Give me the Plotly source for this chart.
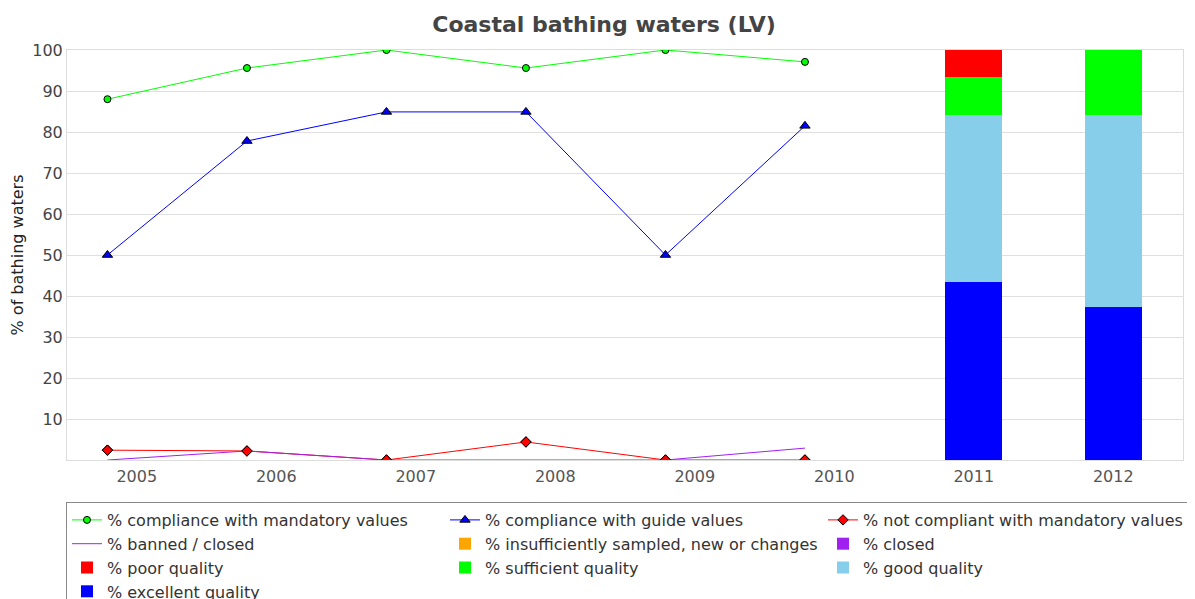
import plotly.graph_objects as go

years = ["2005", "2006", "2007", "2008", "2009", "2010", "2011", "2012"]
line_years = ["2005", "2006", "2007", "2008", "2009", "2010"]
bar_years = ["2011", "2012"]

mandatory = [88.0, 95.6, 100.0, 95.6, 100.0, 97.1]
guide = [50.0, 77.8, 84.9, 84.9, 50.0, 81.5]
not_compliant = [2.4, 2.2, 0.0, 4.4, 0.0, 0.0]
banned = [0.0, 2.2, 0.0, 0.0, 0.0, 2.9]

insufficient = [0.0, 0.0]
closed = [0.0, 0.0]
poor = [6.6, 0.0]
sufficient = [9.3, 15.9]
good = [40.7, 46.8]
excellent = [43.4, 37.3]

yticks = [10, 20, 30, 40, 50, 60, 70, 80, 90, 100]

idx = {y: i for i, y in enumerate(years)}
LINE_OFFSET = -0.21
lx = [idx[y] + LINE_OFFSET for y in line_years]
bx = [idx[y] for y in bar_years]

FONT = "DejaVu Sans"
W, H = 1195, 599
ML, MR, MT, MB = 59, 20, 42, 147
PW, PH = W - ML - MR, H - MT - MB

fig = go.Figure()

fig.add_trace(go.Scatter(x=lx, y=mandatory, mode="lines+markers", name="% compliance with mandatory values",
                         line=dict(color="#00ff00", width=1), legendrank=1,
                         marker=dict(symbol="circle", size=7, color="#00ff00", line=dict(color="black", width=1))))
fig.add_trace(go.Scatter(x=lx, y=guide, mode="lines+markers", name="% compliance with guide values",
                         line=dict(color="#0000ff", width=1), legendrank=2,
                         marker=dict(symbol="triangle-up", size=9, color="#0000ff", line=dict(color="black", width=1))))
fig.add_trace(go.Scatter(x=lx, y=not_compliant, mode="lines+markers", name="% not compliant with mandatory values",
                         line=dict(color="#ff0000", width=1), legendrank=3,
                         marker=dict(symbol="diamond", size=8, color="#ff0000", line=dict(color="black", width=1))))
fig.add_trace(go.Scatter(x=lx, y=banned, mode="lines", name="% banned / closed", legendrank=4,
                         line=dict(color="#a020f0", width=1)))
fig.add_trace(go.Scatter(x=lx, y=not_compliant, mode="markers", showlegend=False, hoverinfo="skip",
                         marker=dict(symbol="diamond", size=8, color="#ff0000", line=dict(color="black", width=1))))

bar_specs = [
    ("% insufficiently sampled, new or changes", insufficient, "#ffa500", 5),
    ("% closed", closed, "#a020f0", 6),
    ("% excellent quality", excellent, "#0000ff", 10),
    ("% good quality", good, "#87ceeb", 9),
    ("% sufficient quality", sufficient, "#00ff00", 8),
    ("% poor quality", poor, "#ff0000", 7),
]
for name, vals, col, rank in bar_specs:
    fig.add_trace(go.Bar(x=bx, y=vals, name=name, width=0.41, marker=dict(color=col, line=dict(width=0)),
                         legendrank=rank))

fig.update_layout(
    width=W, height=H,
    barmode="stack",
    plot_bgcolor="white", paper_bgcolor="white",
    margin=dict(l=ML, r=MR, t=MT, b=MB, autoexpand=False),
    font=dict(family=FONT, size=16, color="#333"),
    title=dict(text="<b>Coastal bathing waters (LV)</b>", x=596 / W, xref="container", xanchor="center",
               y=1 - 16 / H, yanchor="middle", font=dict(family=FONT, size=22, color="#444")),
    legend=dict(orientation="h", x=-1 / PW, xanchor="left", y=-42 / PH, yanchor="top",
                entrywidth=333, bordercolor="#888", borderwidth=1, traceorder="normal",
                font=dict(family=FONT, size=16, color="#333"), tracegroupgap=0),
    showlegend=True,
)
fig.update_xaxes(range=[-0.5, 7.5], tickvals=list(range(len(years))), ticktext=years,
                 showgrid=False, zeroline=False, showline=True, mirror=True, linecolor="#ddd", linewidth=1,
                 tickfont=dict(color="#555", size=16), ticks="", ticklabelstandoff=2)
fig.update_yaxes(range=[0, 100], tickvals=yticks, showgrid=True, gridcolor="#e0e0e0", zeroline=False,
                 showline=True, mirror=True, linecolor="#ddd", linewidth=1,
                 tickfont=dict(color="#444", size=16), ticks="",
                 title=dict(text="% of bathing waters", font=dict(size=16, color="#222"), standoff=4))

fig.write_html("out.html")
